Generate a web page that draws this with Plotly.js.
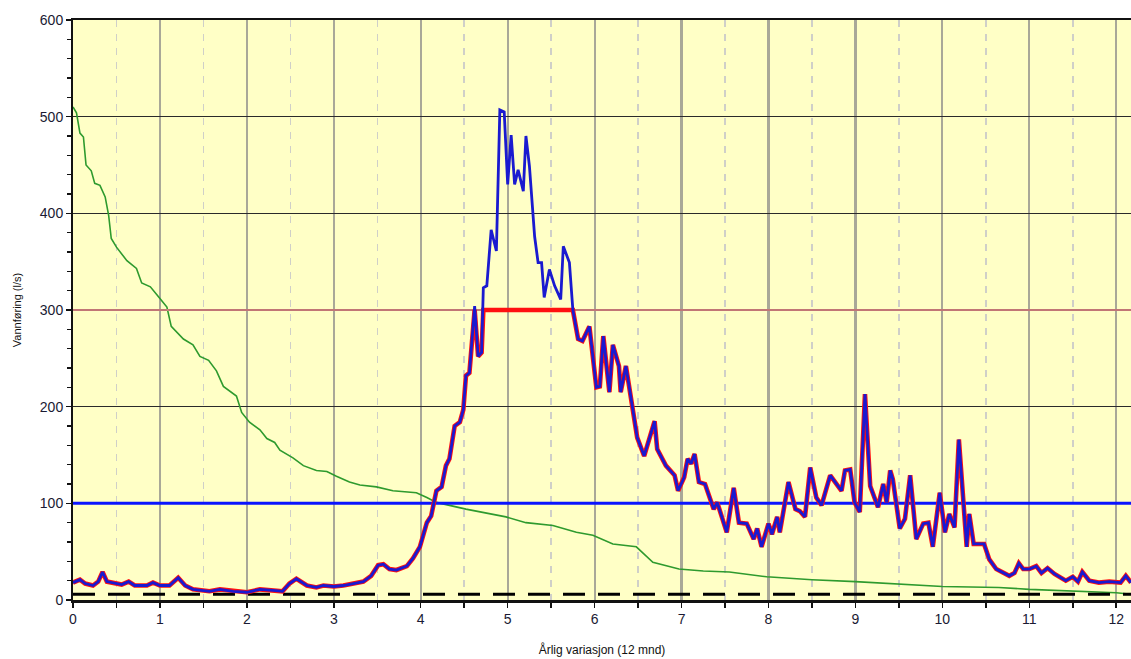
<!DOCTYPE html>
<html>
<head>
<meta charset="utf-8">
<script src="https://cdn.plot.ly/plotly-3.0.1.min.js"></script>
<style>html,body{margin:0;padding:0;background:#fff;}#chart{width:1131px;height:659px;}</style>
</head>
<body>
<div id="chart"></div>
<script>
// Hydrograph (months, l/s)
const flowX = [0,0.08,0.14,0.23,0.29,0.34,0.39,0.46,0.56,0.64,0.71,0.85,0.92,1.0,1.11,1.21,1.29,1.38,1.57,1.69,1.84,2.0,2.15,2.30,2.41,2.49,2.57,2.69,2.80,2.88,3.0,3.11,3.22,3.34,3.43,3.51,3.57,3.64,3.72,3.84,3.91,3.99,4.07,4.12,4.18,4.24,4.29,4.33,4.39,4.45,4.49,4.52,4.56,4.62,4.66,4.70,4.72,4.76,4.81,4.87,4.91,4.96,5.0,5.04,5.08,5.12,5.18,5.21,5.25,5.31,5.35,5.39,5.42,5.48,5.54,5.61,5.64,5.71,5.75,5.81,5.86,5.94,6.02,6.06,6.10,6.17,6.21,6.28,6.30,6.36,6.44,6.49,6.57,6.69,6.72,6.82,6.92,6.96,7.03,7.07,7.11,7.15,7.20,7.27,7.37,7.41,7.52,7.60,7.66,7.75,7.83,7.87,7.92,8.0,8.04,8.10,8.13,8.23,8.31,8.36,8.42,8.48,8.55,8.61,8.71,8.76,8.84,8.88,8.94,8.99,9.05,9.11,9.17,9.26,9.32,9.36,9.40,9.43,9.51,9.57,9.63,9.70,9.78,9.84,9.89,9.97,10.03,10.08,10.14,10.19,10.28,10.31,10.36,10.48,10.54,10.62,10.77,10.83,10.88,10.93,11.0,11.08,11.14,11.21,11.29,11.42,11.50,11.56,11.61,11.69,11.80,11.92,12.0,12.05,12.11,12.17];
const flowY = [18,21,17,15,19,29,19,18,16,19,15,15,18,15,15,23,15,11,9,11,9,8,11,10,9,17,22,15,13,15,14,15,17,19,25,36,37,32,31,35,43,55,80,87,113,117,139,146,180,184,197,232,235,304,252,256,323,325,383,361,507,505,430,481,430,445,423,480,449,376,349,349,313,342,325,311,366,349,300,270,268,283,220,221,273,215,264,242,215,242,197,168,149,185,156,139,129,113,127,146,141,151,122,120,94,101,70,116,80,79,63,74,55,79,68,86,70,122,94,92,86,137,106,98,129,123,113,134,135,101,91,213,118,96,120,101,134,125,74,84,129,63,79,80,55,111,70,89,75,166,55,89,58,58,42,32,25,28,38,32,32,35,28,33,27,20,24,19,29,20,18,19,18,18,25,18];

// Duration curve
const durX = [0,0.04,0.08,0.12,0.15,0.21,0.25,0.31,0.37,0.41,0.44,0.50,0.62,0.73,0.79,0.89,1.0,1.08,1.13,1.27,1.38,1.46,1.56,1.65,1.73,1.88,1.94,2.03,2.15,2.23,2.32,2.38,2.53,2.65,2.80,2.92,3.03,3.18,3.30,3.49,3.68,3.95,4.07,4.18,4.52,4.98,5.21,5.52,5.79,5.98,6.21,6.48,6.67,6.97,7.25,7.55,7.98,8.5,9.0,10.0,10.65,11.0,12.0,12.17];
const durY = [510,504,483,479,450,444,431,429,417,398,374,365,351,343,328,324,312,303,283,270,264,252,248,237,221,211,194,184,176,167,163,155,147,139,134,133,128,122,119,117,113,111,106,101,94,86,80,77,70,67,58,55,39,32,30,29,24,21,19,14,13,11,7.5,6];

// Reference levels (l/s)
const capacity = 300;
const meanFlow = 100;
const minFlow = 6;

const xSpan = [0, 12.17];
const yTicks = [0,100,200,300,400,500,600];
const xTicks = [0,1,2,3,4,5,6,7,8,9,10,11,12];

const usedY = flowY.map(v => Math.min(v, capacity));

const traces = [
  {x: durX, y: durY, mode: 'lines', line: {color: '#2e9a2e', width: 1.6}, hoverinfo: 'skip'},
  {x: xSpan, y: [capacity, capacity], mode: 'lines', line: {color: '#f49090', width: 1.5}},
  {x: xSpan, y: [meanFlow, meanFlow], mode: 'lines', line: {color: '#0a14ff', width: 3}},
  {x: xSpan, y: [minFlow, minFlow], mode: 'lines', line: {color: '#000000', width: 3, dash: '22px,13px'}},
  {x: flowX, y: usedY, mode: 'lines', line: {color: '#ff1010', width: 4.6}},
  {x: flowX, y: flowY, mode: 'lines', line: {color: '#1a1ad0', width: 2.8}}
];

const layout = {
  width: 1131, height: 659,
  margin: {l: 73, r: 0, t: 20, b: 59},
  paper_bgcolor: '#ffffff',
  plot_bgcolor: '#ffffc6',
  showlegend: false,
  font: {family: 'Liberation Sans, Arial, sans-serif', color: '#1a1a33'},
  xaxis: {
    range: xSpan, tickvals: xTicks, ticktext: xTicks.map(String),
    showgrid: true, gridcolor: '#a9a898', gridwidth: 2.2,
    showline: true, linecolor: '#111', linewidth: 2.5, mirror: true,
    ticks: 'outside', ticklen: 5, tickcolor: '#111', tickwidth: 1.5,
    minor: {dtick: 0.5, tick0: 0, showgrid: true, gridcolor: '#cfcfc8', gridwidth: 1.5, griddash: '7px,7px', ticks: 'outside', ticklen: 5, tickcolor: '#111'},
    tickfont: {size: 14, color: '#1a1a33'},
    zeroline: false,
    title: {text: 'Årlig variasjon (12 mnd)', font: {size: 12, color: '#111'}, standoff: 20}
  },
  yaxis: {
    range: [0, 600], tickvals: yTicks, ticktext: yTicks.map(String),
    showgrid: true, gridcolor: '#2a2a2a', gridwidth: 1.2,
    showline: true, linecolor: '#111', linewidth: 2,
    ticks: 'outside', ticklen: 5, tickcolor: '#111', tickwidth: 1.5,
    minor: {dtick: 20, tick0: 0, showgrid: false, ticks: 'outside', ticklen: 4, tickcolor: '#111'},
    tickfont: {size: 14, color: '#1a1a33'},
    zeroline: false,
    title: {text: 'Vannføring (l/s)', font: {size: 11, color: '#111'}, standoff: 16}
  }
};

Plotly.newPlot('chart', traces, layout, {displayModeBar: false, staticPlot: true});
</script>
</body>
</html>
